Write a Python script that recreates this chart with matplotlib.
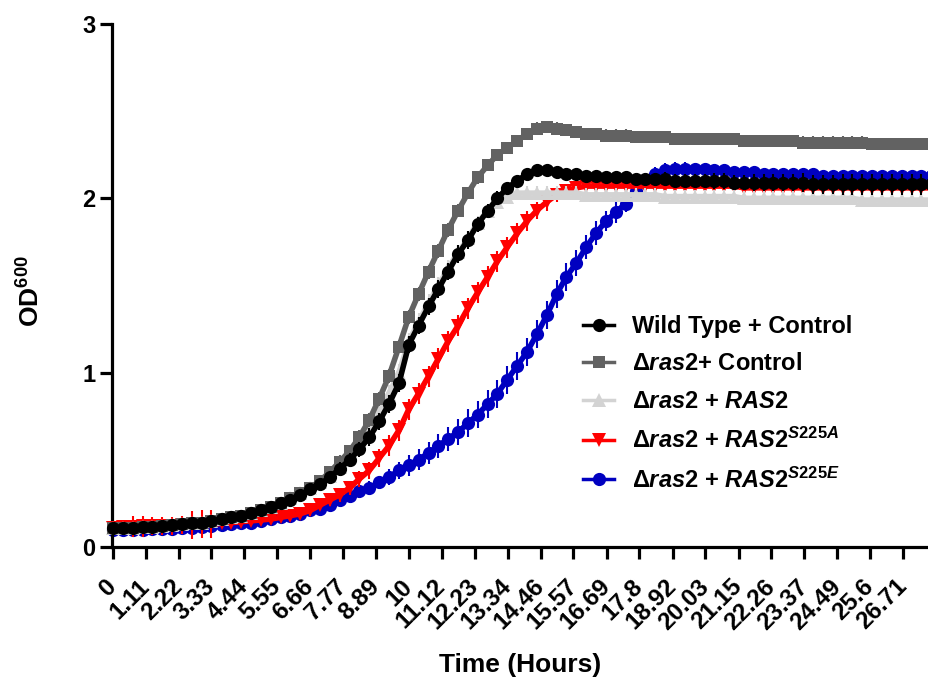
import matplotlib
matplotlib.use("Agg")
import matplotlib.pyplot as plt
from matplotlib.lines import Line2D
import matplotlib.transforms as mtrans

# ---------------- data ----------------
time_h = [0.00, 0.33, 0.67, 1.00, 1.33, 1.67, 2.00, 2.33, 2.67, 3.00,
          3.33, 3.67, 4.00, 4.33, 4.67, 5.00, 5.33, 5.67, 6.00, 6.33,
          6.67, 7.00, 7.33, 7.67, 8.00, 8.33, 8.67, 9.00, 9.33, 9.67,
          10.00, 10.33, 10.67, 11.00, 11.33, 11.67, 12.00, 12.33, 12.67, 13.00,
          13.33, 13.67, 14.00, 14.33, 14.67, 15.00, 15.33, 15.67, 16.00, 16.33,
          16.67, 17.00, 17.33, 17.67, 18.00, 18.33, 18.67, 19.00, 19.33, 19.67,
          20.00, 20.33, 20.67, 21.00, 21.33, 21.67, 22.00, 22.33, 22.67, 23.00,
          23.33, 23.67, 24.00, 24.33, 24.67, 25.00, 25.33, 25.67, 26.00, 26.33,
          26.67, 27.00, 27.33, 27.67]

wt_ctrl = [0.11, 0.11, 0.11, 0.115, 0.117, 0.12, 0.125, 0.13, 0.135, 0.14,
           0.15, 0.16, 0.17, 0.18, 0.195, 0.21, 0.23, 0.25, 0.27, 0.30,
           0.33, 0.36, 0.40, 0.45, 0.50, 0.56, 0.63, 0.72, 0.82, 0.94,
           1.16, 1.27, 1.38, 1.48, 1.58, 1.68, 1.76, 1.85, 1.93, 2.00,
           2.06, 2.10, 2.14, 2.16, 2.16, 2.15, 2.14, 2.14, 2.13, 2.13,
           2.12, 2.12, 2.12, 2.11, 2.11, 2.11, 2.11, 2.10, 2.10, 2.10,
           2.10, 2.10, 2.10, 2.09, 2.09, 2.09, 2.09, 2.09, 2.09, 2.09,
           2.09, 2.08, 2.08, 2.08, 2.08, 2.08, 2.08, 2.08, 2.08, 2.08,
           2.08, 2.08, 2.08, 2.08]
wt_ctrl_err = [0.01, 0.01, 0.01, 0.01, 0.01, 0.01, 0.01, 0.01, 0.01, 0.01,
               0.01, 0.01, 0.01, 0.01, 0.015, 0.015, 0.02, 0.02, 0.02, 0.025,
               0.03, 0.03, 0.035, 0.04, 0.04, 0.045, 0.05, 0.05, 0.05, 0.05,
               0.05, 0.05, 0.05, 0.05, 0.05, 0.05, 0.05, 0.045, 0.04, 0.04,
               0.035, 0.03, 0.03, 0.03, 0.03, 0.03, 0.03, 0.03, 0.03, 0.03,
               0.03, 0.03, 0.035, 0.035, 0.035, 0.035, 0.04, 0.04, 0.04, 0.04,
               0.04, 0.045, 0.045, 0.045, 0.045, 0.05, 0.05, 0.05, 0.05, 0.05,
               0.055, 0.055, 0.055, 0.055, 0.06, 0.06, 0.06, 0.06, 0.06, 0.06,
               0.06, 0.06, 0.06, 0.06]

ras2_ctrl = [0.11, 0.11, 0.11, 0.115, 0.117, 0.12, 0.125, 0.13, 0.135, 0.14,
             0.15, 0.16, 0.17, 0.18, 0.195, 0.21, 0.23, 0.25, 0.28, 0.31,
             0.34, 0.38, 0.43, 0.49, 0.55, 0.63, 0.73, 0.85, 0.98, 1.15,
             1.32, 1.45, 1.58, 1.70, 1.82, 1.93, 2.03, 2.12, 2.19, 2.25,
             2.29, 2.33, 2.37, 2.40, 2.41, 2.40, 2.39, 2.38, 2.37, 2.37,
             2.36, 2.36, 2.36, 2.35, 2.35, 2.35, 2.35, 2.34, 2.34, 2.34,
             2.34, 2.34, 2.34, 2.34, 2.33, 2.33, 2.33, 2.33, 2.33, 2.33,
             2.32, 2.32, 2.32, 2.32, 2.32, 2.32, 2.32, 2.31, 2.31, 2.31,
             2.31, 2.31, 2.31, 2.31]
ras2_ctrl_err = [0.01, 0.01, 0.01, 0.01, 0.01, 0.01, 0.01, 0.01, 0.01, 0.01,
                 0.01, 0.01, 0.01, 0.015, 0.015, 0.015, 0.02, 0.02, 0.02, 0.02,
                 0.03, 0.03, 0.03, 0.035, 0.035, 0.04, 0.04, 0.04, 0.04, 0.04,
                 0.04, 0.04, 0.04, 0.04, 0.04, 0.035, 0.035, 0.035, 0.035, 0.035,
                 0.035, 0.035, 0.035, 0.035, 0.035, 0.035, 0.035, 0.035, 0.035, 0.035,
                 0.035, 0.035, 0.035, 0.035, 0.035, 0.035, 0.035, 0.035, 0.035, 0.035,
                 0.035, 0.035, 0.035, 0.035, 0.035, 0.035, 0.035, 0.035, 0.035, 0.035,
                 0.035, 0.035, 0.035, 0.035, 0.035, 0.035, 0.035, 0.035, 0.035, 0.035,
                 0.035, 0.035, 0.035, 0.035]

ras2_ras2 = [0.11, 0.11, 0.11, 0.115, 0.117, 0.12, 0.125, 0.13, 0.135, 0.14,
             0.15, 0.16, 0.17, 0.18, 0.195, 0.21, 0.23, 0.25, 0.28, 0.31,
             0.34, 0.37, 0.41, 0.46, 0.52, 0.59, 0.67, 0.77, 0.88, 1.00,
             1.18, 1.29, 1.40, 1.50, 1.60, 1.69, 1.77, 1.86, 1.93, 1.98,
             2.01, 2.03, 2.03, 2.03, 2.03, 2.03, 2.03, 2.03, 2.02, 2.02,
             2.02, 2.02, 2.02, 2.02, 2.02, 2.02, 2.01, 2.01, 2.01, 2.01,
             2.01, 2.01, 2.01, 2.01, 2.00, 2.00, 2.00, 2.00, 2.00, 2.00,
             2.00, 2.00, 2.00, 2.00, 2.00, 2.00, 1.99, 1.99, 1.99, 1.99,
             1.99, 1.99, 1.99, 1.99]
ras2_ras2_err = [0.01, 0.01, 0.01, 0.01, 0.01, 0.01, 0.01, 0.01, 0.01, 0.01,
                 0.01, 0.01, 0.01, 0.015, 0.015, 0.015, 0.02, 0.02, 0.025, 0.025,
                 0.03, 0.035, 0.04, 0.045, 0.05, 0.05, 0.05, 0.05, 0.05, 0.05,
                 0.05, 0.05, 0.05, 0.05, 0.045, 0.04, 0.04, 0.04, 0.04, 0.04,
                 0.04, 0.04, 0.04, 0.04, 0.04, 0.04, 0.04, 0.04, 0.04, 0.04,
                 0.04, 0.04, 0.04, 0.04, 0.04, 0.04, 0.04, 0.04, 0.04, 0.04,
                 0.04, 0.04, 0.04, 0.04, 0.04, 0.04, 0.04, 0.04, 0.04, 0.04,
                 0.04, 0.04, 0.04, 0.04, 0.04, 0.04, 0.04, 0.04, 0.04, 0.04,
                 0.04, 0.04, 0.04, 0.04]

ras2_s225a = [0.11, 0.115, 0.115, 0.12, 0.12, 0.12, 0.12, 0.125, 0.125, 0.13,
              0.13, 0.135, 0.14, 0.145, 0.15, 0.155, 0.16, 0.17, 0.18, 0.19,
              0.21, 0.24, 0.27, 0.30, 0.34, 0.39, 0.44, 0.51, 0.58, 0.67,
              0.79, 0.88, 0.98, 1.08, 1.18, 1.27, 1.37, 1.46, 1.55, 1.64,
              1.72, 1.80, 1.87, 1.93, 1.98, 2.02, 2.04, 2.06, 2.07, 2.07,
              2.07, 2.07, 2.07, 2.07, 2.07, 2.07, 2.07, 2.07, 2.07, 2.07,
              2.07, 2.07, 2.07, 2.07, 2.06, 2.06, 2.06, 2.06, 2.06, 2.06,
              2.06, 2.06, 2.06, 2.06, 2.06, 2.06, 2.06, 2.06, 2.06, 2.06,
              2.06, 2.06, 2.06, 2.06]
ras2_s225a_err = [0.01, 0.02, 0.06, 0.06, 0.05, 0.05, 0.05, 0.05, 0.08, 0.08,
                  0.08, 0.02, 0.01, 0.01, 0.015, 0.015, 0.02, 0.02, 0.02, 0.025,
                  0.03, 0.03, 0.035, 0.04, 0.04, 0.045, 0.05, 0.05, 0.06, 0.06,
                  0.06, 0.06, 0.06, 0.06, 0.06, 0.06, 0.06, 0.06, 0.06, 0.06,
                  0.06, 0.06, 0.06, 0.05, 0.05, 0.04, 0.035, 0.03, 0.03, 0.03,
                  0.03, 0.03, 0.03, 0.03, 0.03, 0.03, 0.03, 0.03, 0.03, 0.03,
                  0.03, 0.03, 0.03, 0.03, 0.03, 0.03, 0.03, 0.03, 0.03, 0.03,
                  0.03, 0.03, 0.03, 0.03, 0.03, 0.03, 0.03, 0.03, 0.03, 0.03,
                  0.03, 0.03, 0.03, 0.03]

ras2_s225e = [0.10, 0.10, 0.10, 0.10, 0.105, 0.105, 0.105, 0.11, 0.11, 0.115,
              0.12, 0.125, 0.13, 0.135, 0.14, 0.15, 0.16, 0.17, 0.18, 0.19,
              0.21, 0.22, 0.24, 0.27, 0.29, 0.32, 0.34, 0.37, 0.40, 0.44,
              0.47, 0.50, 0.54, 0.58, 0.62, 0.66, 0.71, 0.76, 0.82, 0.88,
              0.96, 1.04, 1.12, 1.22, 1.33, 1.45, 1.55, 1.63, 1.72, 1.80,
              1.87, 1.92, 1.97, 2.04, 2.10, 2.14, 2.16, 2.17, 2.17, 2.17,
              2.17, 2.16, 2.16, 2.15, 2.15, 2.15, 2.14, 2.14, 2.14, 2.14,
              2.14, 2.14, 2.13, 2.13, 2.13, 2.13, 2.13, 2.13, 2.13, 2.13,
              2.13, 2.13, 2.13, 2.13]
ras2_s225e_err = [0.01, 0.01, 0.01, 0.01, 0.01, 0.01, 0.01, 0.01, 0.01, 0.01,
                  0.01, 0.01, 0.01, 0.01, 0.01, 0.01, 0.01, 0.015, 0.015, 0.015,
                  0.02, 0.02, 0.025, 0.03, 0.03, 0.035, 0.04, 0.04, 0.045, 0.05,
                  0.06, 0.06, 0.065, 0.07, 0.07, 0.075, 0.08, 0.08, 0.08, 0.08,
                  0.08, 0.08, 0.08, 0.08, 0.08, 0.08, 0.08, 0.075, 0.07, 0.07,
                  0.06, 0.06, 0.05, 0.04, 0.04, 0.04, 0.04, 0.04, 0.04, 0.035,
                  0.035, 0.03, 0.03, 0.03, 0.03, 0.03, 0.03, 0.03, 0.03, 0.03,
                  0.03, 0.03, 0.03, 0.03, 0.03, 0.03, 0.03, 0.03, 0.03, 0.03,
                  0.03, 0.03, 0.03, 0.03]

tick_labels = ["0", "1.11", "2.22", "3.33", "4.44", "5.55", "6.66", "7.77",
               "8.89", "10", "11.12", "12.23", "13.34", "14.46", "15.57",
               "16.69", "17.8", "18.92", "20.03", "21.15", "22.26", "23.37",
               "24.49", "25.6", "26.71"]
y_ticks = [0, 1, 2, 3]

labels = ["Wild Type + Control",
          r"$\mathsf{\Delta}\mathit{ras2}$+ Control",
          r"$\mathsf{\Delta}\mathit{ras2}$ + $\mathit{RAS2}$",
          r"$\mathsf{\Delta}\mathit{ras2}$ + $\mathit{RAS2}^{\mathit{S225A}}$",
          r"$\mathsf{\Delta}\mathit{ras2}$ + $\mathit{RAS2}^{\mathit{S225E}}$"]

# ---------------- style ----------------
plt.rcParams.update({
    "font.family": ["Liberation Sans", "DejaVu Sans"],
    "font.weight": "bold",
    "mathtext.fontset": "custom",
    "mathtext.rm": "Liberation Sans:bold",
    "mathtext.it": "Liberation Sans:italic:bold",
    "mathtext.bf": "Liberation Sans:bold",
    "mathtext.sf": "Liberation Sans",
})

fig = plt.figure(figsize=(9.29, 6.81), dpi=100)
ax = fig.add_axes([112 / 929, 134 / 681, 817 / 929, 523 / 681])

styles = [
    (wt_ctrl, wt_ctrl_err, "#000000", "o", 9.5, 6),
    (ras2_ctrl, ras2_ctrl_err, "#626262", "s", 8.5, 5),
    (ras2_ras2, ras2_ras2_err, "#D3D3D3", "^", 10.5, 4),
    (ras2_s225a, ras2_s225a_err, "#FF0000", "v", 10.5, 3),
    (ras2_s225e, ras2_s225e_err, "#0000C0", "o", 9.5, 2),
]

handles = []
for (mean, err, col, mk, ms, z), lab in zip(styles, labels):
    ax.errorbar(time_h, mean, yerr=err, color=col, ecolor=col, marker=mk,
                markersize=ms, markeredgewidth=0, linewidth=4,
                elinewidth=1.5, capsize=4.5, capthick=1.5, zorder=z,
                clip_on=False)
    handles.append(Line2D([], [], color=col, marker=mk, markersize=ms,
                          markeredgewidth=0, linewidth=2.5))

ax.set_xlim(-0.034, 27.59)
ax.set_ylim(0, 3)

tick_vals = [float(t) for t in tick_labels]
ax.set_xticks(tick_vals)
ax.set_xticklabels(tick_labels, rotation=45, ha="right", va="center",
                   rotation_mode="anchor", fontsize=17.5, fontweight="bold")
offset = mtrans.ScaledTranslation(3.5 / 100, 0, fig.dpi_scale_trans)
for lbl in ax.get_xticklabels():
    lbl.set_transform(lbl.get_transform() + offset)
ax.set_yticks(y_ticks)
ax.set_yticklabels([str(v) for v in y_ticks], fontsize=17, fontweight="bold")

for side in ("top", "right"):
    ax.spines[side].set_visible(False)
for side in ("left", "bottom"):
    ax.spines[side].set_linewidth(2.3)
ax.tick_params(axis="both", which="major", width=2.3, length=8.5,
               direction="out", color="black")
ax.tick_params(axis="x", pad=17.4)
ax.tick_params(axis="y", pad=3.5)

ax.set_xlabel("Time (Hours)", fontsize=19, fontweight="bold")
ax.xaxis.label.set_va("center")
ax.xaxis.set_label_coords(0.5, -0.2256)
ax.set_ylabel(r"OD$^{\mathrm{600}}$", fontsize=19, fontweight="bold")
ax.yaxis.label.set_va("center")
ax.yaxis.set_label_coords(-0.099, 0.49)

ax.legend(handles, labels, loc="upper left", bbox_to_anchor=(0.577, 0.444),
          frameon=False, handlelength=1.3, handletextpad=0.75,
          labelspacing=0.62, borderpad=0, borderaxespad=0,
          prop={"weight": "bold", "size": 17})

fig.savefig("out.png", dpi=100)
